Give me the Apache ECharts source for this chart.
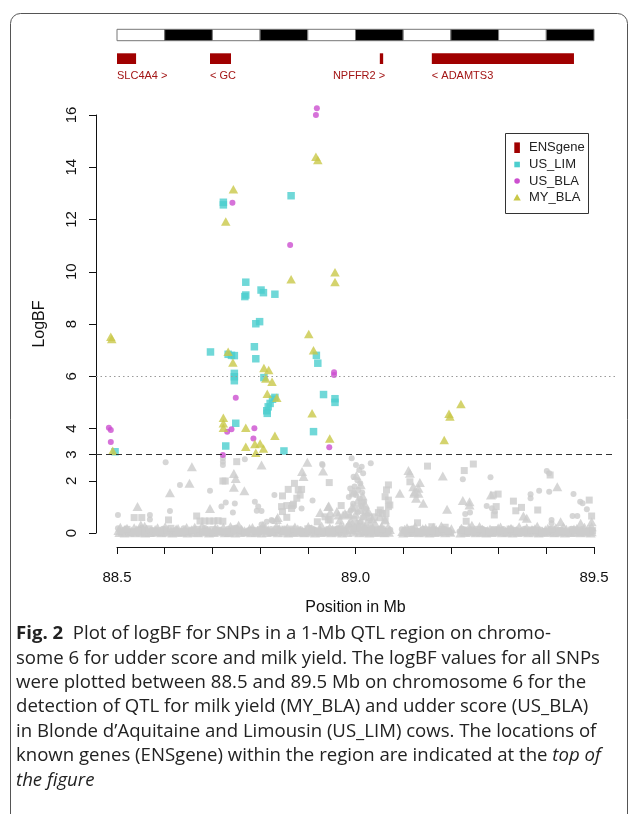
<!DOCTYPE html>
<html><head><meta charset="utf-8">
<script src="https://cdn.jsdelivr.net/npm/echarts@6/dist/echarts.min.js"></script>
<style>html,body{margin:0;padding:0;background:#fff}#c{width:630px;height:814px}</style>
</head><body><div id="c"></div>
<script>
// ---------------- DATA ----------------
const xTicks = [88.5, 88.6, 88.7, 88.8, 88.9, 89.0, 89.1, 89.2, 89.3, 89.4, 89.5];
const xTickLabels = [88.5, 89.0, 89.5];
const yTicks = [0, 2, 3, 4, 6, 8, 10, 12, 14, 16];
const thresholdStrong = 6;
const thresholdSuggestive = 3;

const geneNames = ['SLC4A4', 'GC', 'NPFFR2', 'ADAMTS3'];
const geneStarts = [88.500, 88.695, 89.051, 89.160];
const geneEnds = [88.540, 88.739, 89.058, 89.458];
const geneStrands = ['+', '-', '+', '-'];

// significant SNPs (logBF > 3)
const usLim = [[88.496,3.11],[88.723,12.66],[88.723,12.56],[88.865,12.91],[88.770,9.60],[88.770,9.11],[88.768,9.05],[88.802,9.30],[88.807,9.20],[88.831,9.14],[88.799,8.09],[88.791,8.01],[88.696,6.93],[88.733,6.84],[88.746,6.79],[88.740,6.80],[88.788,7.13],[88.791,6.67],[88.746,6.11],[88.746,5.98],[88.746,5.83],[88.808,5.95],[88.918,6.80],[88.921,6.50],[88.831,5.19],[88.826,5.12],[88.821,4.96],[88.817,4.83],[88.814,4.68],[88.815,4.58],[88.933,5.30],[88.957,5.14],[88.957,5.00],[88.749,4.20],[88.912,3.88],[88.728,3.33],[88.850,3.14]];
const usBla = [[88.483,4.03],[88.487,3.94],[88.487,3.48],[88.919,16.26],[88.917,16.00],[88.742,12.64],[88.863,11.02],[88.749,5.18],[88.955,6.15],[88.955,6.05],[88.740,3.97],[88.731,3.88],[88.788,4.01],[88.786,3.62],[88.945,3.28],[88.722,2.99]];
const myBla = [[88.487,7.51],[88.489,7.43],[88.491,3.15],[88.917,14.40],[88.921,14.28],[88.744,13.16],[88.728,11.92],[88.865,9.71],[88.957,9.98],[88.957,9.61],[88.902,7.62],[88.912,7.00],[88.733,6.94],[88.743,6.53],[88.808,6.32],[88.818,6.24],[88.812,5.91],[88.825,5.79],[88.815,5.33],[88.835,5.18],[88.909,4.58],[88.723,4.41],[88.723,4.20],[88.723,4.03],[88.770,4.03],[88.831,3.72],[88.946,3.62],[88.770,3.30],[88.789,3.41],[88.800,3.43],[88.807,3.23],[88.791,3.07],[89.186,3.56],[89.196,4.56],[89.198,4.46],[89.221,4.94]];

// non-significant SNPs (grey), scattered above the baseline band
const nsLim = [[88.751,2.73],[88.722,1.99],[88.727,1.99],[88.536,0.59],[88.552,0.59],[88.608,0.50],[88.667,0.65],[88.674,0.46],[88.684,0.46],[88.694,0.46],[88.703,0.46],[88.712,0.47],[88.722,0.45],[88.847,1.42],[88.859,1.67],[88.872,1.90],[88.880,1.65],[88.887,1.67],[88.884,1.45],[88.877,1.33],[88.945,1.93],[88.845,1.01],[88.856,1.05],[88.868,1.05],[88.847,0.82],[88.856,0.60],[88.970,1.05],[88.920,0.43],[88.943,0.50],[88.936,0.62],[88.947,0.50],[88.870,1.10],[88.866,0.94],
[89.151,2.56],[89.114,1.96],[89.228,2.39],[89.247,2.64],[89.299,1.49],[89.289,1.45],[89.295,1.01],[89.291,0.69],[89.331,1.22],[89.336,0.85],[89.348,0.98],[89.382,0.88],[89.408,2.22],[89.490,1.26],[89.495,0.65],[89.069,1.84],[89.065,1.65],[89.062,1.39],[89.069,1.26],[89.072,1.07],[89.069,1.01],[89.064,0.75],[89.062,0.50],[89.056,0.75],[89.052,0.88],[89.130,0.39],[89.160,0.24],[89.188,0.22],[89.232,0.45],
[88.994,1.50],[89.013,1.15],[89.020,0.80],[88.999,0.95],[89.028,0.60],[88.985,0.70],[89.040,0.62],[89.048,0.78]];
const nsBla = [[88.602,2.71],[88.722,2.86],[88.722,2.73],[88.722,2.60],[88.768,2.82],[88.632,1.84],[88.695,1.62],[88.611,0.84],[88.502,0.69],[88.569,0.69],[88.569,0.52],[88.719,1.01],[88.728,1.17],[88.747,1.13],[88.743,0.78],[88.789,1.20],[88.796,1.01],[88.793,0.85],[88.803,0.84],[88.830,1.45],[88.930,2.64],[88.910,1.24],[88.824,0.50],[88.887,0.94],[88.931,2.60],[88.826,0.46],[88.814,0.43],[88.803,0.33],
[89.032,2.67],[89.225,2.06],[89.283,2.13],[89.275,1.03],[89.286,0.95],[89.292,0.82],[89.230,0.73],[89.240,0.78],[89.367,1.48],[89.367,1.33],[89.385,1.62],[89.401,2.37],[89.406,2.29],[89.406,1.58],[89.457,1.49],[89.471,1.20],[89.476,1.14],[89.485,0.91],[89.455,0.65],[89.465,0.65],[89.411,0.50],[89.411,0.37],
[88.992,2.86],[89.001,2.60],[89.013,2.54],[89.016,2.29],[89.008,2.41],[88.996,2.15],[89.004,2.02],[89.010,1.90],[88.998,1.78],[89.006,1.65],[89.014,1.55],[89.001,1.45],[89.009,1.32],[89.018,1.20],[88.995,1.12],[89.012,1.02],[89.022,0.92],[88.990,0.85],[89.005,0.78],[89.025,0.70],[89.015,0.60],[88.998,0.55],[89.030,0.48],[89.008,0.40],[88.988,0.62],[88.986,1.38],[88.989,1.70]];
const nsMy = [[88.657,2.54],[88.803,2.60],[88.745,2.28],[88.749,2.09],[88.652,1.90],[88.611,1.54],[88.745,1.75],[88.767,1.62],[88.543,1.01],[88.550,0.31],[88.695,0.94],[88.888,2.35],[88.891,2.16],[88.899,2.71],[88.932,2.37],[88.835,0.52],[88.926,0.78],[88.943,1.01],[88.947,0.78],[88.964,0.69],[88.974,0.69],[88.944,1.03],[88.967,0.50],[88.837,0.59],[88.961,0.82],[88.978,0.75],
[89.111,2.39],[89.114,2.29],[89.183,2.18],[89.135,1.93],[89.132,1.71],[89.132,1.52],[89.123,1.52],[89.127,1.33],[89.142,1.14],[89.093,1.52],[89.192,0.91],[89.284,1.45],[89.225,1.24],[89.239,1.20],[89.239,1.07],[89.352,0.65],[89.359,0.56],[89.423,1.77],[89.472,0.37],[89.495,0.43],[89.495,0.24],[89.430,0.43],[89.051,0.62],[89.062,0.50],[89.041,0.37],[89.055,0.24],[89.121,1.77],[89.124,1.58],
[89.002,2.20],[89.011,1.85],[88.997,1.60],[89.015,1.42],[89.005,1.25],[89.020,1.10],[88.993,1.00],[89.010,0.90],[89.027,0.82],[89.000,0.72],[89.017,0.65],[88.990,0.45],[89.035,0.55],[89.022,0.35],[89.006,0.30]];

// non-significant SNPs forming the dense band near logBF = 0
const bandLim = [[88.510,0.08],[88.533,0.03],[88.556,0.10],[88.579,0.05],[88.602,0.12],[88.624,0.02],[88.647,0.07],[88.669,0.14],[88.690,0.05],[88.713,0.09],[88.735,0.03],[88.757,0.11],[88.779,0.06],[88.801,0.13],[88.824,0.04],[88.846,0.08],[88.867,0.15],[88.889,0.03],[88.911,0.10],[88.933,0.06],[88.955,0.12],[88.977,0.04],[88.999,0.18],[89.021,0.07],[89.044,0.12],[89.066,0.03],[89.105,0.09],[89.127,0.05],[89.149,0.12],[89.171,0.03],[89.193,0.08],[89.225,0.11],[89.247,0.04],[89.269,0.09],[89.291,0.13],[89.313,0.05],[89.335,0.08],[89.357,0.03],[89.379,0.11],[89.401,0.06],[89.423,0.09],[89.445,0.04],[89.467,0.10],[89.489,0.06],
[88.521,0.14],[88.544,0.06],[88.567,0.16],[88.590,0.09],[88.613,0.18],[88.636,0.05],[88.658,0.11],[88.680,0.03],[88.701,0.13],[88.724,0.07],[88.746,0.16],[88.768,0.02],[88.790,0.10],[88.812,0.06],[88.835,0.14],[88.857,0.09],[88.878,0.04],[88.900,0.16],[88.922,0.07],[88.944,0.02],[88.966,0.15],[88.988,0.10],[89.010,0.22],[89.032,0.09],[89.055,0.15],[89.116,0.14],[89.138,0.02],[89.160,0.08],[89.182,0.14],[89.236,0.07],[89.258,0.14],[89.280,0.04],[89.302,0.10],[89.324,0.15],[89.346,0.06],[89.368,0.12],[89.390,0.02],[89.412,0.14],[89.434,0.07],[89.456,0.12],[89.478,0.03],[89.497,0.09]];
const bandBla = [[88.507,0.04],[88.516,0.12],[88.526,0.02],[88.536,0.08],[88.547,0.15],[88.558,0.03],[88.568,0.06],[88.579,0.10],[88.590,0.02],[88.601,0.09],[88.613,0.05],[88.624,0.13],[88.634,0.01],[88.645,0.07],[88.657,0.11],[88.668,0.03],[88.679,0.06],[88.690,0.14],[88.700,0.02],[88.711,0.08],[88.723,0.04],[88.733,0.16],[88.744,0.05],[88.756,0.09],[88.767,0.02],[88.778,0.12],[88.789,0.06],[88.800,0.03],[88.812,0.10],[88.823,0.15],[88.834,0.04],[88.845,0.07],[88.857,0.02],[88.868,0.11],[88.879,0.05],[88.890,0.09],[88.902,0.03],[88.913,0.13],[88.924,0.06],[88.935,0.02],[88.946,0.08],[88.958,0.12],[88.969,0.04],[88.980,0.07],[88.990,0.20],[88.998,0.05],[89.006,0.15],[89.015,0.03],[89.025,0.10],[89.036,0.06],[89.047,0.02],[89.058,0.09],[89.068,0.04],[89.102,0.08],[89.113,0.03],[89.124,0.11],[89.135,0.05],[89.147,0.02],[89.158,0.07],[89.169,0.12],[89.180,0.04],[89.191,0.09],[89.201,0.02],[89.218,0.06],[89.228,0.13],[89.239,0.03],[89.250,0.08],[89.261,0.05],[89.272,0.11],[89.283,0.02],[89.294,0.07],[89.305,0.04],[89.316,0.10],[89.327,0.06],[89.338,0.02],[89.349,0.09],[89.360,0.05],[89.371,0.12],[89.382,0.03],[89.393,0.07],[89.404,0.04],[89.415,0.10],[89.426,0.02],[89.437,0.08],[89.448,0.05],[89.459,0.11],[89.470,0.03],[89.481,0.07],[89.492,0.04],
[88.502,0.18],[88.521,0.07],[88.541,0.03],[88.552,0.20],[88.573,0.12],[88.585,0.05],[88.596,0.16],[88.618,0.09],[88.640,0.18],[88.651,0.02],[88.662,0.08],[88.684,0.19],[88.706,0.11],[88.717,0.03],[88.739,0.10],[88.750,0.21],[88.762,0.06],[88.784,0.13],[88.806,0.18],[88.817,0.04],[88.840,0.09],[88.851,0.17],[88.862,0.06],[88.885,0.14],[88.896,0.02],[88.907,0.19],[88.918,0.08],[88.941,0.15],[88.952,0.03],[88.963,0.18],[88.975,0.10],[88.985,0.28],[88.994,0.35],[89.002,0.25],[89.011,0.42],[89.020,0.18],[89.031,0.30],[89.041,0.12],[89.052,0.16],[89.063,0.07],[89.073,0.12],[89.097,0.14],[89.108,0.04],[89.119,0.17],[89.130,0.08],[89.141,0.15],[89.152,0.03],[89.163,0.14],[89.174,0.07],[89.185,0.16],[89.196,0.05],[89.223,0.17],[89.233,0.08],[89.244,0.14],[89.255,0.02],[89.266,0.16],[89.277,0.07],[89.288,0.12],[89.299,0.03],[89.310,0.15],[89.321,0.08],[89.332,0.12],[89.343,0.04],[89.354,0.16],[89.365,0.10],[89.376,0.03],[89.387,0.13],[89.398,0.07],[89.409,0.15],[89.420,0.05],[89.431,0.12],[89.442,0.02],[89.453,0.16],[89.464,0.08],[89.475,0.14],[89.486,0.02],[89.496,0.10]];
const bandMy = [[88.503,0.10],[88.512,0.05],[88.521,0.18],[88.530,0.08],[88.541,0.12],[88.553,0.04],[88.562,0.15],[88.574,0.07],[88.585,0.20],[88.596,0.06],[88.607,0.11],[88.619,0.03],[88.628,0.17],[88.640,0.09],[88.651,0.05],[88.663,0.22],[88.672,0.08],[88.684,0.13],[88.695,0.04],[88.706,0.19],[88.716,0.10],[88.729,0.06],[88.738,0.25],[88.750,0.08],[88.761,0.14],[88.772,0.05],[88.784,0.21],[88.795,0.09],[88.806,0.30],[88.817,0.12],[88.828,0.06],[88.840,0.18],[88.851,0.10],[88.862,0.04],[88.873,0.23],[88.884,0.11],[88.896,0.07],[88.907,0.16],[88.918,0.05],[88.929,0.27],[88.940,0.09],[88.952,0.14],[88.963,0.06],[88.975,0.20],[88.986,0.35],[88.994,0.12],[89.003,0.40],[89.011,0.08],[89.020,0.25],[89.031,0.15],[89.042,0.05],[89.053,0.18],[89.063,0.09],[89.072,0.13],[89.098,0.06],[89.108,0.20],[89.119,0.10],[89.130,0.04],[89.141,0.16],[89.152,0.08],[89.163,0.22],[89.174,0.05],[89.185,0.12],[89.196,0.07],[89.222,0.18],[89.233,0.09],[89.244,0.30],[89.255,0.06],[89.266,0.14],[89.277,0.10],[89.288,0.04],[89.299,0.19],[89.310,0.08],[89.321,0.13],[89.332,0.05],[89.343,0.24],[89.354,0.11],[89.365,0.07],[89.376,0.16],[89.387,0.04],[89.398,0.12],[89.409,0.08],[89.420,0.20],[89.431,0.06],[89.442,0.14],[89.453,0.03],[89.464,0.17],[89.475,0.09],[89.486,0.12],[89.495,0.05],
[88.507,0.22],[88.517,0.14],[88.526,0.03],[88.536,0.20],[88.547,0.09],[88.558,0.26],[88.568,0.02],[88.580,0.13],[88.591,0.04],[88.601,0.24],[88.613,0.08],[88.624,0.15],[88.634,0.06],[88.646,0.21],[88.657,0.12],[88.668,0.03],[88.678,0.27],[88.690,0.10],[88.701,0.06],[88.711,0.15],[88.723,0.22],[88.734,0.02],[88.745,0.13],[88.755,0.30],[88.767,0.09],[88.778,0.17],[88.790,0.03],[88.801,0.14],[88.811,0.22],[88.823,0.05],[88.834,0.26],[88.846,0.13],[88.857,0.20],[88.867,0.08],[88.879,0.15],[88.890,0.03],[88.901,0.25],[88.913,0.11],[88.924,0.17],[88.935,0.04],[88.946,0.21],[88.957,0.10],[88.969,0.28],[88.980,0.12],[88.999,0.22],[89.015,0.30],[89.026,0.06],[89.036,0.20],[89.047,0.11],[89.058,0.03],[89.068,0.21],[89.103,0.14],[89.114,0.03],[89.125,0.25],[89.136,0.09],[89.147,0.18],[89.158,0.04],[89.169,0.13],[89.180,0.27],[89.191,0.10],[89.201,0.16],[89.227,0.05],[89.238,0.21],[89.249,0.12],[89.260,0.25],[89.271,0.03],[89.282,0.15],[89.293,0.09],[89.304,0.23],[89.315,0.04],[89.326,0.18],[89.337,0.11],[89.348,0.06],[89.359,0.20],[89.370,0.13],[89.381,0.26],[89.392,0.08],[89.403,0.18],[89.414,0.03],[89.425,0.11],[89.436,0.24],[89.447,0.09],[89.458,0.15],[89.469,0.05],[89.480,0.22],[89.490,0.14],
[88.505,0.02],[88.516,0.00],[88.527,0.04],[88.538,0.01],[88.549,0.03],[88.559,0.00],[88.571,0.02],[88.582,0.05],[88.593,0.01],[88.604,0.03],[88.616,0.00],[88.626,0.04],[88.637,0.02],[88.648,0.00],[88.660,0.03],[88.670,0.01],[88.681,0.04],[88.693,0.00],[88.703,0.02],[88.714,0.05],[88.726,0.01],[88.736,0.03],[88.748,0.00],[88.758,0.02],[88.769,0.04],[88.781,0.01],[88.792,0.03],[88.803,0.00],[88.814,0.02],[88.826,0.05],[88.837,0.01],[88.848,0.03],[88.859,0.00],[88.870,0.02],[88.881,0.04],[88.893,0.01],[88.904,0.03],[88.915,0.00],[88.927,0.02],[88.938,0.05],[88.949,0.01],[88.960,0.03],[88.972,0.00],[88.983,0.02],[88.996,0.04],[89.008,0.01],[89.018,0.03],[89.029,0.00],[89.039,0.02],[89.050,0.04],[89.061,0.01],[89.070,0.03],[89.100,0.00],[89.111,0.02],[89.122,0.04],[89.133,0.01],[89.144,0.03],[89.155,0.00],[89.166,0.02],[89.177,0.05],[89.188,0.01],[89.199,0.03],[89.220,0.00],[89.230,0.02],[89.241,0.04],[89.252,0.01],[89.263,0.03],[89.274,0.00],[89.285,0.02],[89.296,0.05],[89.307,0.01],[89.318,0.03],[89.329,0.00],[89.340,0.02],[89.351,0.04],[89.362,0.01],[89.373,0.03],[89.384,0.00],[89.395,0.02],[89.406,0.05],[89.417,0.01],[89.428,0.03],[89.439,0.00],[89.450,0.02],[89.461,0.04],[89.472,0.01],[89.483,0.03],[89.493,0.00]];

const captionLines = [
  '{b|Fig. 2}{n|  Plot of logBF for SNPs in a 1-Mb QTL region on chromo-}',
  '{n|some 6 for udder score and milk yield. The logBF values for all SNPs}',
  '{n|were plotted between 88.5 and 89.5 Mb on chromosome 6 for the}',
  '{n|detection of QTL for milk yield (MY_BLA) and udder score (US_BLA)}',
  '{n|in Blonde d’Aquitaine and Limousin (US_LIM) cows. The locations of}',
  '{n|known genes (ENSgene) within the region are indicated at the }{i|top of}',
  '{i|the figure}'
];
const legendNames = ['ENSgene', 'US_LIM', 'US_BLA', 'MY_BLA'];

// ---------------- STYLE ----------------
const C_LIM = '#4ccece', C_BLA = '#cc4fcf', C_MY = '#c9c848', C_NS = '#cccccc', C_GENE = '#a00000';
const FONT = '"Liberation Sans", Arial, sans-serif';
const CAP_FONT = 'Open Sans';
const CAP_SIZE = 18.6;
const rightAlignedLabels = ['NPFFR2'];

function scat(name, data, symbol, size, color, z, extra) {
  return Object.assign({
    type: 'scatter', name, data, symbol, symbolSize: size,
    itemStyle: { color }, clip: false, silent: true, z,
    xAxisIndex: 0, yAxisIndex: 0, animation: false, large: false
  }, extra || {});
}

const bandData = xTicks.slice(0, -1).map((v, i) => [v, xTicks[i + 1]]);
const geneData = geneNames.map((n, i) => [geneStarts[i], geneEnds[i], i]);

const chart = echarts.init(document.getElementById('c'), null, { renderer: 'canvas' });

const graphics = [];
graphics.push({ type: 'rect', shape: { x: 10.5, y: 13.5, width: 617, height: 840, r: 10 },
  style: { fill: 'none', stroke: '#555', lineWidth: 1 }, z: 0, silent: true });
const lgX = 505.5, lgY = 133.5;
graphics.push({ type: 'rect', shape: { x: lgX, y: lgY, width: 83, height: 80 },
  style: { fill: '#fff', stroke: '#333', lineWidth: 1 }, z: 10 });
const rowY = [147.7, 164.5, 181, 197.5];
graphics.push({ type: 'rect', shape: { x: 514.3, y: rowY[0] - 5.3, width: 5.6, height: 10.6 }, style: { fill: C_GENE }, z: 11 });
graphics.push({ type: 'rect', shape: { x: 514.3, y: rowY[1] - 2.8, width: 5.6, height: 5.6 }, style: { fill: C_LIM }, z: 11 });
graphics.push({ type: 'circle', shape: { cx: 517.1, cy: rowY[2], r: 2.8 }, style: { fill: C_BLA }, z: 11 });
graphics.push({ type: 'polygon', shape: { points: [[513.4, rowY[3] + 3], [520.8, rowY[3] + 3], [517.1, rowY[3] - 3.5]] }, style: { fill: C_MY }, z: 11 });
legendNames.forEach((n, i) => graphics.push({ type: 'text', x: 529, y: rowY[i],
  style: { text: n, font: '13px ' + FONT, fill: '#222', textVerticalAlign: 'middle' }, z: 11 }));
captionLines.forEach((t, i) => graphics.push({ type: 'text', x: 16, y: 634 + i * 24.4,
  style: { text: t, textVerticalAlign: 'middle', rich: {
    b: { fontFamily: CAP_FONT, fontSize: CAP_SIZE, fontWeight: 'bold', fill: '#222' },
    n: { fontFamily: CAP_FONT, fontSize: CAP_SIZE, fill: '#222' },
    i: { fontFamily: CAP_FONT, fontSize: CAP_SIZE, fontStyle: 'italic', fill: '#222' }
  } }, z: 5 }));

chart.setOption({
  animation: false,
  backgroundColor: '#fff',
  grid: [
    { left: 96, right: 15, top: 115, height: 418 },
    { left: 117, width: 477, top: 546, height: 1 },
    { left: 117, width: 477, top: 25, height: 60 }
  ],
  xAxis: [
    { gridIndex: 0, type: 'value', min: 88.456, max: 89.544, show: false },
    { gridIndex: 1, type: 'value', min: 88.5, max: 89.5, interval: 0.1, position: 'bottom',
      axisLine: { show: true, lineStyle: { color: '#111', width: 1 } },
      axisTick: { show: true, length: 7, customValues: xTicks, lineStyle: { color: '#111' } },
      axisLabel: { customValues: xTickLabels, formatter: v => Number(v).toFixed(1), margin: 23,
        fontFamily: 'Liberation Sans', fontSize: 15, color: '#111' },
      splitLine: { show: false },
      name: 'Position in Mb', nameLocation: 'middle', nameGap: 53,
      nameTextStyle: { fontFamily: 'Liberation Sans', fontSize: 16, color: '#111' } },
    { gridIndex: 2, type: 'value', min: 88.5, max: 89.5, show: false }
  ],
  yAxis: [
    { gridIndex: 0, type: 'value', min: 0, max: 16,
      axisLine: { show: true, lineStyle: { color: '#111', width: 1 } },
      axisTick: { show: true, length: 7, customValues: yTicks, lineStyle: { color: '#111' } },
      axisLabel: { customValues: yTicks, rotate: 90, margin: 17, fontFamily: 'Liberation Sans', fontSize: 15, color: '#111' },
      splitLine: { show: false },
      name: 'LogBF', nameLocation: 'middle', nameGap: 48,
      nameTextStyle: { fontFamily: 'Liberation Sans', fontSize: 16, color: '#111' } },
    { gridIndex: 1, type: 'value', min: 0, max: 1, show: false },
    { gridIndex: 2, type: 'value', min: 0, max: 60, inverse: true, show: false }
  ],
  series: [
    scat('MY_BLA ns', nsMy.concat(bandMy), 'triangle', [10, 9], C_NS, 2, {
      markLine: { silent: true, symbol: ['none', 'none'], label: { show: false },
        data: [
          { yAxis: thresholdStrong, lineStyle: { type: [1.5, 3], color: '#9a9a9a', width: 1 } },
          { yAxis: thresholdSuggestive, lineStyle: { type: [6, 4], color: '#333', width: 1 } }
        ] } }),
    scat('US_BLA ns', nsBla.concat(bandBla), 'circle', 6, C_NS, 2),
    scat('US_LIM ns', nsLim.concat(bandLim), 'rect', 7, C_NS, 2),
    scat('US_LIM', usLim, 'rect', 7.5, C_LIM, 4),
    scat('US_BLA', usBla, 'circle', 6, C_BLA, 4),
    scat('MY_BLA', myBla, 'triangle', [9.5, 8.5], C_MY, 4),
    { type: 'custom', name: 'chromosome', xAxisIndex: 2, yAxisIndex: 2, data: bandData, silent: true,
      encode: { x: [0, 1] },
      renderItem: (params, api) => {
        const s = api.coord([api.value(0), 4.3]), e = api.coord([api.value(1), 15.7]);
        return { type: 'rect', shape: { x: s[0], y: s[1], width: e[0] - s[0], height: e[1] - s[1] },
          style: { fill: params.dataIndex % 2 ? '#000' : '#fff', stroke: '#777', lineWidth: 1 } };
      } },
    { type: 'custom', name: 'ENSgene', xAxisIndex: 2, yAxisIndex: 2, data: geneData, silent: true,
      encode: { x: [0, 1] },
      renderItem: (params, api) => {
        const i = api.value(2);
        const s = api.coord([api.value(0), 28.3]), e = api.coord([api.value(1), 39]);
        const name = geneNames[i];
        const label = geneStrands[i] === '+' ? name + ' >' : '< ' + name;
        const right = rightAlignedLabels.indexOf(name) >= 0;
        const ly = api.coord([api.value(0), 51])[1];
        return { type: 'group', children: [
          { type: 'rect', shape: { x: s[0], y: s[1], width: Math.max(e[0] - s[0], 2.5), height: e[1] - s[1] },
            style: { fill: C_GENE } },
          { type: 'text', x: right ? e[0] + 2 : s[0], y: ly,
            style: { text: label, font: '11px ' + FONT, fill: '#a31515',
              textAlign: right ? 'right' : 'left', textVerticalAlign: 'middle' } }
        ] };
      } }
  ],
  graphic: graphics
});
</script></body></html>
